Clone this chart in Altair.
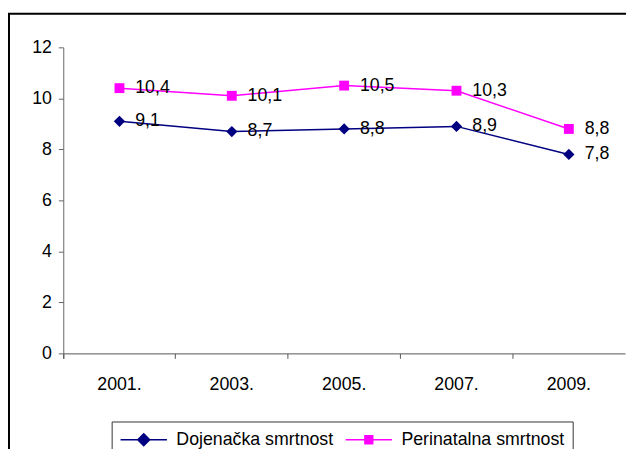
import altair as alt
import pandas as pd

years = ["2001.", "2003.", "2005.", "2007.", "2009."]
dojenacka = [9.1, 8.7, 8.8, 8.9, 7.8]
perinatalna = [10.4, 10.1, 10.5, 10.3, 8.8]
series = ["Dojenačka smrtnost", "Perinatalna smrtnost"]
colors = ["#000080", "#FF00FF"]

rows = []
for y, v in zip(years, dojenacka):
    rows.append({"Godina": y, "Serija": series[0], "Vrijednost": v})
for y, v in zip(years, perinatalna):
    rows.append({"Godina": y, "Serija": series[1], "Vrijednost": v})
df = pd.DataFrame(rows)

FONT = "Liberation Sans"

x_enc = alt.X(
    "Godina:O",
    sort=years,
    scale=alt.Scale(type="band", paddingInner=0, paddingOuter=0),
    bandPosition=0.5,
    axis=alt.Axis(
        title=None, bandPosition=0, tickExtra=True, labelAngle=0,
        labelFont=FONT, labelFontSize=18, labelColor="#000", labelPadding=18,
        tickSize=5, tickColor="#555", domainColor="#555", grid=False,
    ),
)
y_enc = alt.Y(
    "Vrijednost:Q",
    scale=alt.Scale(domain=[0, 12], nice=False),
    axis=alt.Axis(
        title=None, values=[0, 2, 4, 6, 8, 10, 12], labelFont=FONT, labelFontSize=18,
        labelColor="#000", labelPadding=7, tickSize=5, tickColor="#666",
        domainColor="#666", grid=False,
    ),
)

sym_shape = (
    "datum.value === 'Dojenačka smrtnost' ? "
    "'M-2.61,0H2.61M0,-0.67L0.67,0L0,0.67L-0.67,0Z' : "
    "'M-2.61,0H2.61M-0.44,-0.44H0.44V0.44H-0.44Z'"
)

legend = alt.Legend(
    title=None, orient="none", legendX=49, legendY=379, direction="horizontal",
    columns=2, labelFont=FONT, labelFontSize=18, labelColor="#000", labelLimit=400,
    symbolSize=324, symbolStrokeWidth=1.5, symbolOffset=14.5, labelOffset=23,
    columnPadding=9, padding=8, strokeColor="#333",
    symbolType={"expr": sym_shape},
    symbolFillColor={"expr": "scale('color', datum.value)"},
    symbolStrokeColor={"expr": "scale('color', datum.value)"},
    symbolOpacity=1,
)

color_enc = alt.Color("Serija:N", scale=alt.Scale(domain=series, range=colors), legend=legend)

base = alt.Chart(df).encode(x=x_enc, y=y_enc)

lines = base.mark_line(strokeWidth=1.5).encode(color=color_enc)

pts_doj = base.transform_filter(alt.datum.Serija == series[0]).mark_point(
    filled=True, opacity=1, shape="diamond", size=130, color=colors[0]
)
pts_per = base.transform_filter(alt.datum.Serija == series[1]).mark_point(
    filled=True, opacity=1, shape="square", size=100, color=colors[1]
)

labels = base.transform_calculate(
    lab="replace(format(datum.Vrijednost, '.1f'), '.', ',')"
).mark_text(align="left", baseline="middle", dx=16, dy=0, font=FONT, fontSize=18, color="#000").encode(
    text="lab:N"
)

border = alt.Chart(pd.DataFrame({"a": [0]})).mark_rect(
    fill=None, stroke="#000", strokeWidth=2
).encode(
    x=alt.value(-55), x2=alt.value(700), y=alt.value(-34), y2=alt.value(600)
)

chart = alt.layer(border, lines, pts_doj, pts_per, labels).properties(
    width=569, height=310,
    padding={"left": 56, "top": 37, "right": 1, "bottom": 94},
    autosize=alt.AutoSizeParams(type="none"),
).configure_view(stroke=None)

chart.save("out.html", embed_options={"renderer": "svg", "actions": False})
